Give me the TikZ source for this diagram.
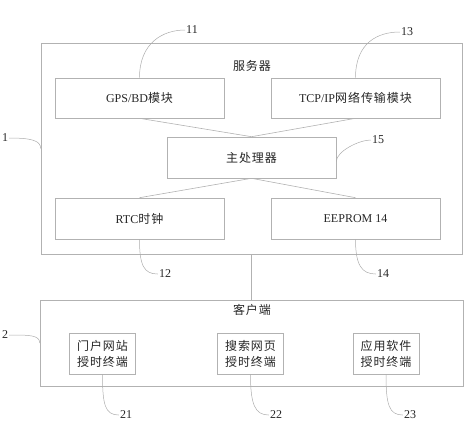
\documentclass[tikz,border=0pt]{standalone}
\usepackage{fontspec}
\setmainfont{Liberation Serif}
\newfontfamily\cjk[LetterSpace=8]{Noto Sans CJK SC}

\begin{document}
\begin{tikzpicture}[x=1pt,y=-1pt,
        font=\fontsize{12}{16}\selectfont,
        box/.style={draw=gray!60, line width=0.6pt, inner sep=0pt, text=black!85},
        unit/.style={box, minimum width=169pt, minimum height=40pt},
        term/.style={box, minimum width=66pt, minimum height=41pt, align=center},
        wire/.style={draw=gray!60, line width=0.6pt},
        lead/.style={draw=gray!65, line width=0.5pt},
        num/.style={inner sep=1pt, text=black!85}]
        \useasboundingbox (0,0) rectangle (474,424);

        \node[box, minimum width=421pt, minimum height=211pt] (server) at (251.5,148.5) {};
        \node[text=black!85] (servertitle) at (252,66) {\cjk 服务器};
        \node[unit] (gps) at (139.5,98) {GPS/BD{\cjk 模块}};
        \node[unit] (tcp) at (355.5,98) {TCP/IP{\cjk 网络传输模块}};
        \node[unit, minimum height=41pt] (cpu) at (251.5,157.5) {\cjk 主处理器};
        \node[unit, minimum height=41pt] (rtc) at (139.5,218.5) {RTC{\cjk 时钟}};
        \node[unit, minimum height=41pt] (eeprom) at (355.5,218.5) {EEPROM 14};

        \node[box, minimum width=423pt, minimum height=86pt] (client) at (251.5,343) {};
        \node[text=black!85] (clienttitle) at (252,310) {\cjk 客户端};
        \node[term] (portal) at (102.5,353.5) {\cjk 门户网站\\ \cjk 授时终端};
        \node[term] (search) at (250.5,353.5) {\cjk 搜索网页\\ \cjk 授时终端};
        \node[term] (app) at (386,353.5) {\cjk 应用软件\\ \cjk 授时终端};

        \draw[wire] (gps.south) -- (cpu.north);
        \draw[wire] (tcp.south) -- (cpu.north);
        \draw[wire] (cpu.south) -- (rtc.north);
        \draw[wire] (cpu.south) -- (eeprom.north);
        \draw[wire] (server.south) -- (client.north);

        % reference numerals
        \node[num] (n11) at (192,30) {11};
        \node[num] (n13) at (407,32) {13};
        \node[num] (n15) at (378,140) {15};
        \node[num] (n1) at (5,138) {1};
        \node[num] (n12) at (165,274) {12};
        \node[num] (n14) at (383,274) {14};
        \node[num] (n2) at (5,335) {2};
        \node[num] (n21) at (126,415) {21};
        \node[num] (n22) at (276,415) {22};
        \node[num] (n23) at (410,415) {23};

        \draw[lead] (gps.north) .. controls +(0,-35) and +(-22,0) .. (n11.west);
        \draw[lead] (tcp.north) .. controls +(0,-35) and +(-22,0) .. (n13.west);
        \draw[lead] ([yshift=-4pt]cpu.east) .. controls +(0,-10) and +(-12,0) .. (n15.west);
        \draw[lead] (n1.east) .. controls +(22,0) and +(0,-8) .. (server.west);
        \draw[lead] (rtc.south) .. controls +(0,26) and +(-14,0) .. (n12.west);
        \draw[lead] (eeprom.south) .. controls +(0,26) and +(-14,0) .. (n14.west);
        \draw[lead] (n2.east) .. controls +(20,0) and +(0,-8) .. (client.west);
        \draw[lead] (portal.south) .. controls +(0,30) and +(-14,0) .. (n21.west);
        \draw[lead] (search.south) .. controls +(0,30) and +(-14,0) .. (n22.west);
        \draw[lead] (app.south) .. controls +(0,30) and +(-14,0) .. (n23.west);
\end{tikzpicture}
\end{document}
